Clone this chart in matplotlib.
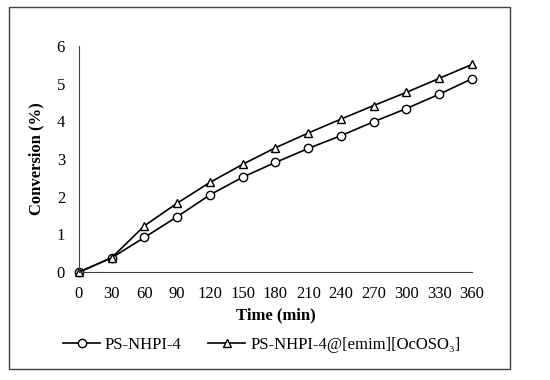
import matplotlib
matplotlib.use('Agg')
import matplotlib.pyplot as plt
from matplotlib.patches import Rectangle

plt.rcParams['font.family'] = ['Liberation Serif', 'DejaVu Serif']

# データ
time_min = [0, 30, 60, 90, 120, 150, 180, 210, 240, 270, 300, 330, 360]
ps_nhpi = [0, 0.38, 0.92, 1.47, 2.05, 2.52, 2.91, 3.28, 3.62, 3.99, 4.34, 4.72, 5.13]
ps_nhpi_il = [0, 0.38, 1.23, 1.83, 2.38, 2.86, 3.30, 3.69, 4.06, 4.42, 4.77, 5.14, 5.51]
labels = ['PS-NHPI-4', 'PS-NHPI-4@[emim][OcOSO₃]']

fig = plt.figure(figsize=(5.5, 3.8), dpi=100)
ax = fig.add_axes([0.1436, 0.284, 0.7145, 0.595])

ax.plot(time_min, ps_nhpi, color='black', lw=1.2, marker='o', ms=6,
        mfc='white', mec='black', mew=1.0, label=labels[0])
ax.plot(time_min, ps_nhpi_il, color='black', lw=1.2, marker='^', ms=6,
        mfc='white', mec='black', mew=1.0, label=labels[1])

ax.set_xlim(0, 360)
ax.set_ylim(0, 6)
ax.set_xticks(time_min)
ax.set_yticks(range(0, 7))
ax.tick_params(length=0, labelsize=12, pad=10)
for s in ['top', 'right']:
    ax.spines[s].set_visible(False)
ax.spines['left'].set_color('#404040')
ax.spines['bottom'].set_color('#404040')
for p in ax.get_lines():
    p.set_clip_on(False)

ax.set_xlabel('Time (min)', fontsize=12, fontweight='bold', labelpad=4)
ax.set_ylabel('Conversion (%)', fontsize=12, fontweight='bold', labelpad=9)

fig.legend(loc='center', bbox_to_anchor=(0.476, 0.092), ncol=2, frameon=False,
           fontsize=12, handlelength=2.2, handletextpad=0.3, columnspacing=1.6)

# 外枠
fig.patches.append(Rectangle((0.0164, 0.029), 0.911, 0.953, transform=fig.transFigure,
                             fill=False, edgecolor='#404040', lw=1.0))

fig.savefig('out.png', dpi=100, facecolor='white')
